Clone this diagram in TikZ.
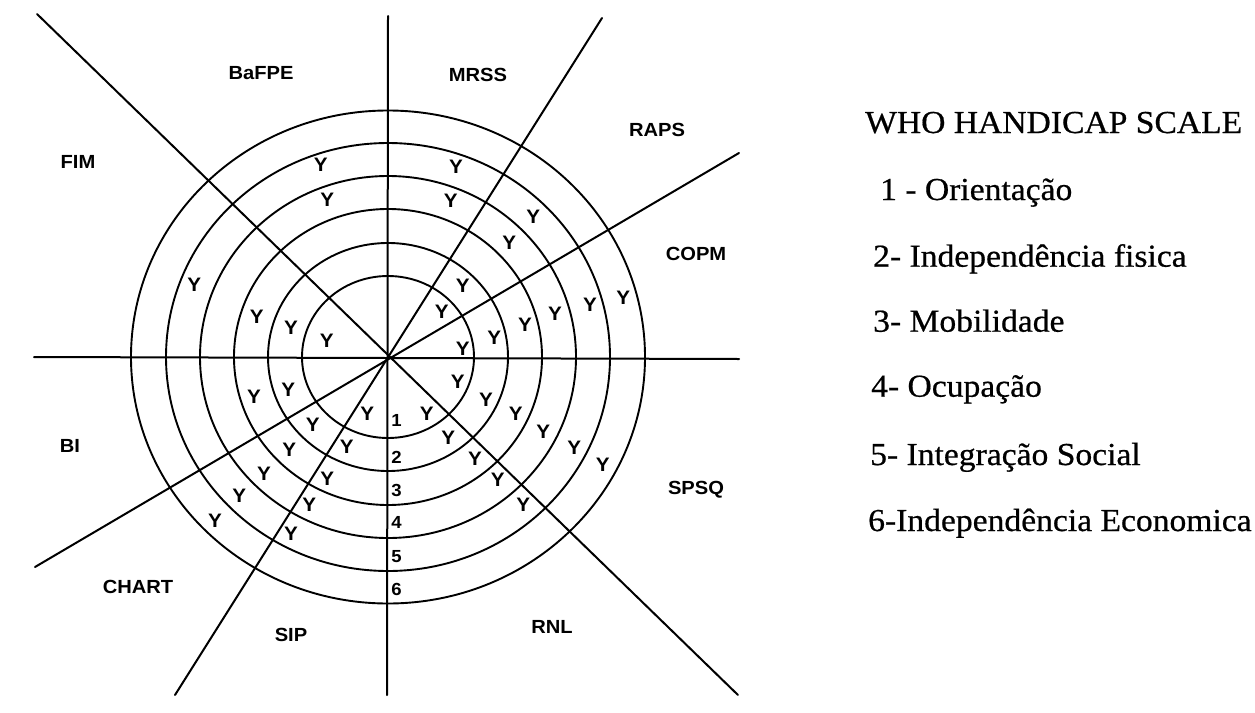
\documentclass[tikz,border=0pt]{standalone}
\usepackage{fontspec}
\setmainfont{Liberation Serif}
\newfontfamily\lblfont[FakeStretch=1.06]{Liberation Sans}
\newfontfamily\legfont[FakeStretch=1.05,FakeBold=0.6]{Liberation Serif}
\begin{document}
\begin{tikzpicture}[x=1pt,y=-1pt,
  spoke/.style={line width=2pt, line cap=round},
  ring/.style={line width=1.9pt},
  sector/.style={font=\lblfont\bfseries\fontsize{19}{21}\selectfont, inner sep=0pt},
  ylab/.style={font=\lblfont\bfseries\fontsize{19.5}{21}\selectfont, inner sep=0pt},
  num/.style={font=\lblfont\bfseries\fontsize{17.5}{19}\selectfont, inner sep=0pt},
  legend/.style={font=\legfont\fontsize{32}{36}\selectfont, inner sep=0pt, anchor=base west}]
\useasboundingbox (0,0) rectangle (1255,712);
\fill[white] (0,0) rectangle (1255,712);
% centre and spoke ends
\coordinate (c) at (388,357);
\coordinate (nA) at (388,16);   \coordinate (sA) at (387,695);
\coordinate (wB) at (34,357);   \coordinate (eB) at (739,359);
\coordinate (nwC) at (37,14);   \coordinate (seC) at (738,695);
\coordinate (neD) at (602,18);  \coordinate (swD) at (175,695);
\coordinate (eneE) at (739,153);\coordinate (wswE) at (35,567);
% rings
\foreach \rx/\ry in {86/81,120/114,154/148,188/181,222/214,257/246.5}
  \draw[ring] (c) ellipse [x radius=\rx pt, y radius=\ry pt];
% spokes
\draw[spoke] (nA) -- (sA);
\draw[spoke] (wB) -- (eB);
\draw[spoke] (nwC) -- (seC);
\draw[spoke] (neD) -- (swD);
\draw[spoke] (eneE) -- (wswE);
% sector labels
\node[sector] (bafpe) at (261,73) {BaFPE};
\node[sector] (mrss) at (478,75) {MRSS};
\node[sector] (raps) at (657,130) {RAPS};
\node[sector] (fim) at (78,162) {FIM};
\node[sector] (copm) at (696,254) {COPM};
\node[sector] (bi) at (70,446) {BI};
\node[sector] (spsq) at (696,490) {SPSQ};
\node[sector] (chart) at (138,587) {CHART};
\node[sector] (sip) at (291,635) {SIP};
\node[sector] (rnl) at (552,627) {RNL};
% ring numbers
\foreach \yy [count=\k] in {420.8,457.5,490.8,522.5,556.3,589.5}
  \node[num] (n\k) at (396.5,\yy) {\k};
% Y marks
\foreach \p [count=\i] in {(320.7,165),(456,166.7),(327.3,200),(450.7,200.7),(533.3,216.7),
  (509.3,242.7),(194.3,285),(462.7,286),(623.3,297.7),(590,305),(441.7,311.7),(555,313.3),
  (256.7,316.7),(525,325),(291,327.3),(494.3,337.7),(326.7,340.7),(462.7,348.3),
  (457.7,381.7),(288.3,389.3),(254,396.7),(486,399.3),(367.3,413.3),(426.7,413.3),
  (515.7,413.3),(312.7,425),(543.3,431.7),(448.3,437.3),(346.7,446.7),(289.3,450),
  (574.3,447.7),(475,458.3),(602.7,465),(327.3,478.3),(264,473.3),(497.7,480),
  (239.3,496),(309.3,505),(523.3,505),(215,520.7),(291,533.3)}
  \node[ylab] (y\i) at \p {Y};
% legend
\node[legend] (title) at (865,133) {WHO HANDICAP SCALE};
\node[legend] (l1) at (880,200) {1 - Orientação};
\node[legend] (l2) at (873,266.7) {2- Independência fisica};
\node[legend] (l3) at (873,331.7) {3- Mobilidade};
\node[legend] (l4) at (871,396.7) {4- Ocupação};
\node[legend] (l5) at (870,465) {5- Integração Social};
\node[legend] (l6) at (868,531) {6-Independência Economica};
\end{tikzpicture}
\end{document}
